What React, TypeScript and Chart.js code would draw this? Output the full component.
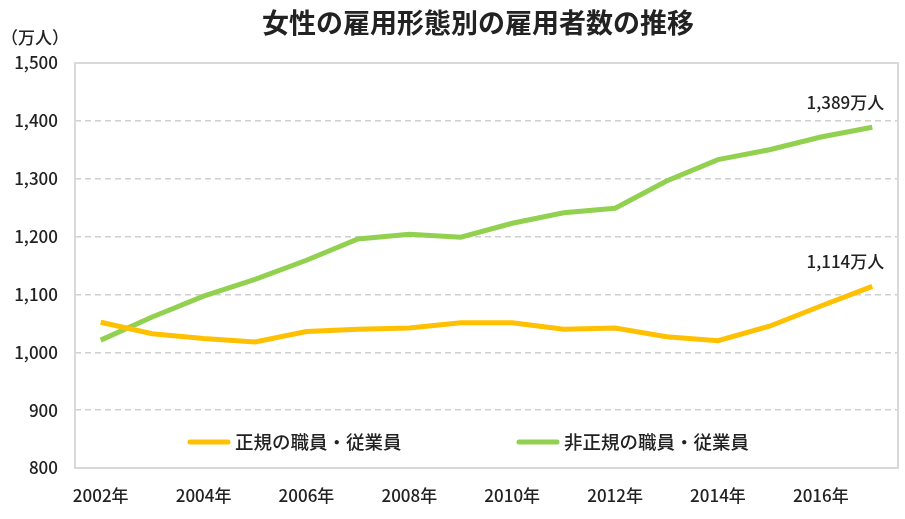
import React, { useEffect, useRef } from "react";
import { Chart, registerables } from "chart.js";

Chart.register(...registerables);

const years = ["2002年","2003年","2004年","2005年","2006年","2007年","2008年","2009年","2010年","2011年","2012年","2013年","2014年","2015年","2016年","2017年"];
const regular = [1052, 1032, 1024, 1018, 1036, 1040, 1042, 1051, 1051, 1040, 1042, 1027, 1020, 1045, 1080, 1114];
const nonRegular = [1021, 1061, 1097, 1126, 1159, 1196, 1204, 1199, 1223, 1241, 1249, 1296, 1333, 1350, 1372, 1389];
const seriesNames = ["正規の職員・従業員", "非正規の職員・従業員"];
const seriesColors = ["#FFC000", "#92D050"];
const titleText = "女性の雇用形態別の雇用者数の推移";
const unitText = "（万人）";
const endLabels = ["1,114万人", "1,389万人"];

const FONT = '"Noto Sans CJK JP", "Noto Sans", sans-serif';

const overlay = {
  id: "overlay",
  beforeDatasetsDraw(chart: any) {
    const { ctx, chartArea } = chart;
    ctx.save();
    ctx.strokeStyle = "#d9d9d9";
    ctx.lineWidth = 2;
    ctx.setLineDash([]);
    ctx.strokeRect(chartArea.left, chartArea.top, chartArea.right - chartArea.left, chartArea.bottom - chartArea.top);
    ctx.restore();
  },
  afterDraw(chart: any) {
    const { ctx } = chart;
    ctx.save();
    ctx.fillStyle = "#222";
    ctx.textBaseline = "middle";
    ctx.font = `bold 27px ${FONT}`;
    ctx.textAlign = "center";
    ctx.fillText(titleText, 478, 23);
    ctx.font = `500 17px ${FONT}`;
    ctx.textAlign = "left";
    ctx.fillText(unitText, 1, 38);

    // end labels
    ctx.font = `500 17px ${FONT}`;
    ctx.textAlign = "right";
    chart.data.datasets.forEach((ds: any, i: number) => {
      const meta = chart.getDatasetMeta(i);
      const pt = meta.data[meta.data.length - 1];
      ctx.fillText(endLabels[i], pt.x + 12, pt.y - 25);
    });

    // legend
    const ly = 442;
    const starts = [190, 519];
    ctx.font = `500 18.5px ${FONT}`;
    ctx.textAlign = "left";
    chart.data.datasets.forEach((ds: any, i: number) => {
      const x0 = starts[i];
      ctx.strokeStyle = ds.borderColor;
      ctx.lineWidth = 5;
      ctx.lineCap = "round";
      ctx.beginPath();
      ctx.moveTo(x0, ly);
      ctx.lineTo(x0 + 38, ly);
      ctx.stroke();
      ctx.fillStyle = "#222";
      ctx.fillText(ds.label, x0 + 45, ly);
    });
    ctx.restore();
  },
};

export default function App() {
  const ref = useRef<HTMLCanvasElement>(null);
  useEffect(() => {
    const chart = new Chart(ref.current!, {
      type: "line",
      data: {
        labels: years,
        datasets: [
          { label: seriesNames[0], data: regular, borderColor: seriesColors[0], backgroundColor: seriesColors[0], borderWidth: 5, pointRadius: 0, tension: 0 },
          { label: seriesNames[1], data: nonRegular, borderColor: seriesColors[1], backgroundColor: seriesColors[1], borderWidth: 5, pointRadius: 0, tension: 0 },
        ],
      },
      options: {
        animation: false,
        responsive: false,
        maintainAspectRatio: false,
        layout: { padding: { top: 63, right: 7, bottom: 0, left: 0 } },
        plugins: { legend: { display: false }, title: { display: false }, tooltip: { enabled: false } },
        scales: {
          x: {
            offset: true,
            grid: { display: false, drawTicks: false },
            border: { display: false },
            ticks: {
              color: "#222",
              font: { family: FONT, size: 17, weight: 500 },
              padding: 17,
              maxRotation: 0,
              autoSkip: false,
              callback: function (_v: any, i: number) { return i % 2 === 0 ? years[i] : ""; },
            },
            afterFit(scale: any) { scale.height = 51; },
          },
          y: {
            min: 800,
            max: 1500,
            grid: { color: "#d0d0d0", lineWidth: 1.5, drawTicks: false },
            border: { display: false, dash: [6, 4] },
            ticks: {
              stepSize: 100,
              color: "#222",
              font: { family: FONT, size: 17, weight: 500 },
              padding: 17,
              callback: (v: any) => Number(v).toLocaleString("en-US"),
            },
            afterFit(scale: any) { scale.width = 75; },
          },
        },
      },
      plugins: [overlay],
    });
    return () => chart.destroy();
  }, []);
  return (
    <div style={{ position: "fixed", left: 0, top: 0, width: 905, height: 519, background: "#fff" }}>
      <canvas ref={ref} width={905} height={519} />
    </div>
  );
}
